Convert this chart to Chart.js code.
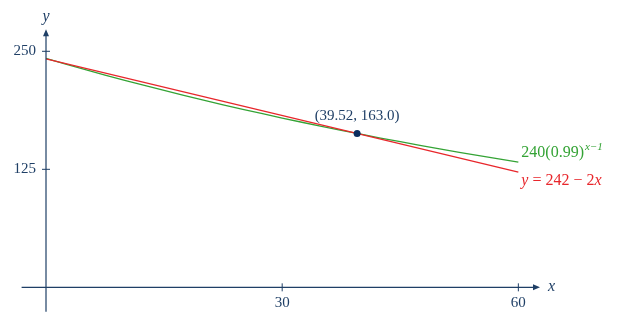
<!DOCTYPE html>
<html>
<head>
<meta charset="utf-8">
<script src="https://cdn.jsdelivr.net/npm/chart.js@4"></script>
<style>
  html, body { margin: 0; padding: 0; background: #fff; }
  #wrap { width: 617px; height: 325px; }
</style>
</head>
<body>
<div id="wrap"><canvas id="chart"></canvas></div>
<script>
// values
const lineX = [0, 60];
const lineY = [242, 122];
const curveX = [0, 5, 10, 15, 20, 25, 30, 35, 40, 45, 50, 55, 60];
const curveY = [242.42, 230.54, 219.24, 208.5, 198.28, 188.56, 179.32, 170.53, 162.17, 154.23, 146.67, 139.48, 132.64];
const pointXY = [39.52, 163.0];
const xTicks = [30, 60];
const yTicks = [125, 250];

const axisColor = "#1f3f66";
const redColor = "#e8262b";
const greenColor = "#34a335";
const serif = "'Liberation Serif', 'DejaVu Serif', serif";

const axesPlugin = {
    id: "axes",
    afterDatasetsDraw(chart) {
        const ctx = chart.ctx;
        const xs = chart.scales.x, ys = chart.scales.y;
        const area = chart.chartArea;
        const x0 = xs.getPixelForValue(0), y0 = ys.getPixelForValue(0);

        ctx.save();
        ctx.strokeStyle = axisColor;
        ctx.fillStyle = axisColor;
        ctx.lineWidth = 1.2;

        // axis lines
        ctx.beginPath();
        ctx.moveTo(area.left, y0);
        ctx.lineTo(area.right - 5, y0);
        ctx.moveTo(x0, area.bottom);
        ctx.lineTo(x0, area.top + 5);
        ctx.stroke();

        // arrow heads
        ctx.beginPath();
        ctx.moveTo(area.right, y0);
        ctx.lineTo(area.right - 7, y0 - 3);
        ctx.lineTo(area.right - 7, y0 + 3);
        ctx.closePath();
        ctx.moveTo(x0, area.top);
        ctx.lineTo(x0 - 3, area.top + 7);
        ctx.lineTo(x0 + 3, area.top + 7);
        ctx.closePath();
        ctx.fill();

        // tick marks
        ctx.lineWidth = 1;
        ctx.beginPath();
        xTicks.forEach(v => {
            const px = xs.getPixelForValue(v);
            ctx.moveTo(px, y0 - 4);
            ctx.lineTo(px, y0 + 4);
        });
        yTicks.forEach(v => {
            const py = ys.getPixelForValue(v);
            ctx.moveTo(x0 - 4, py);
            ctx.lineTo(x0 + 4, py);
        });
        ctx.stroke();

        // tick labels
        ctx.font = "15px " + serif;
        ctx.textBaseline = "middle";
        ctx.textAlign = "center";
        xTicks.forEach(v => ctx.fillText(String(v), xs.getPixelForValue(v), y0 + 16));
        ctx.textAlign = "right";
        yTicks.forEach(v => ctx.fillText(String(v), x0 - 10, ys.getPixelForValue(v)));

        // axis names
        ctx.font = "italic 16px " + serif;
        ctx.textAlign = "center";
        ctx.fillText("y", x0, area.top - 13);
        ctx.textAlign = "left";
        ctx.fillText("x", area.right + 8, y0 - 1);

        // point label
        ctx.font = "15px " + serif;
        ctx.textAlign = "center";
        ctx.fillText("(" + pointXY[0].toFixed(2) + ", " + pointXY[1].toFixed(1) + ")",
            xs.getPixelForValue(pointXY[0]), ys.getPixelForValue(pointXY[1]) - 17);

        // curve labels
        const lx = xs.getPixelForValue(60) + 3;
        ctx.textAlign = "left";
        ctx.fillStyle = greenColor;
        ctx.font = "16px " + serif;
        const gy = ys.getPixelForValue(curveY[curveY.length - 1]) - 9;
        ctx.fillText("240(0.99)", lx, gy);
        const w = ctx.measureText("240(0.99)").width;
        ctx.font = "italic 11px " + serif;
        ctx.fillText("x\u22121", lx + w + 1, gy - 6);

        ctx.fillStyle = redColor;
        ctx.font = "italic 16px " + serif;
        const ry = ys.getPixelForValue(lineY[1]) + 9;
        ctx.fillText("y", lx, ry);
        const wy = ctx.measureText("y").width;
        ctx.font = "16px " + serif;
        ctx.fillText(" = 242 \u2212 2", lx + wy, ry);
        const w2 = ctx.measureText(" = 242 \u2212 2").width;
        ctx.font = "italic 16px " + serif;
        ctx.fillText("x", lx + wy + w2, ry);
        ctx.restore();
    }
};

new Chart(document.getElementById("chart"), {
    type: "scatter",
    data: {
        datasets: [
            {
                label: "240(0.99)^(x-1)",
                data: curveX.map((x, i) => ({ x: x, y: curveY[i] })),
                showLine: true,
                borderColor: greenColor,
                borderWidth: 1.3,
                pointRadius: 0,
                tension: 0.4,
                order: 2,
            },
            {
                label: "y = 242 - 2x",
                data: lineX.map((x, i) => ({ x: x, y: lineY[i] })),
                showLine: true,
                borderColor: redColor,
                borderWidth: 1.3,
                pointRadius: 0,
                order: 1,
            },
            {
                label: "intersection",
                data: [{ x: pointXY[0], y: pointXY[1] }],
                pointRadius: 3.5,
                pointBackgroundColor: "#0b2d5e",
                pointBorderWidth: 0,
                order: 0,
            },
        ],
    },
    options: {
        responsive: true,
        maintainAspectRatio: false,
        animation: false,
        layout: { padding: { left: 21.6, right: 77, top: 29.3, bottom: 13.3 } },
        plugins: { legend: { display: false }, tooltip: { enabled: false } },
        scales: {
            x: { type: "linear", display: false, min: -3.1, max: 62.75 },
            y: { type: "linear", display: false, min: -25.8, max: 273.3 },
        },
    },
    plugins: [axesPlugin],
});
</script>
</body>
</html>
